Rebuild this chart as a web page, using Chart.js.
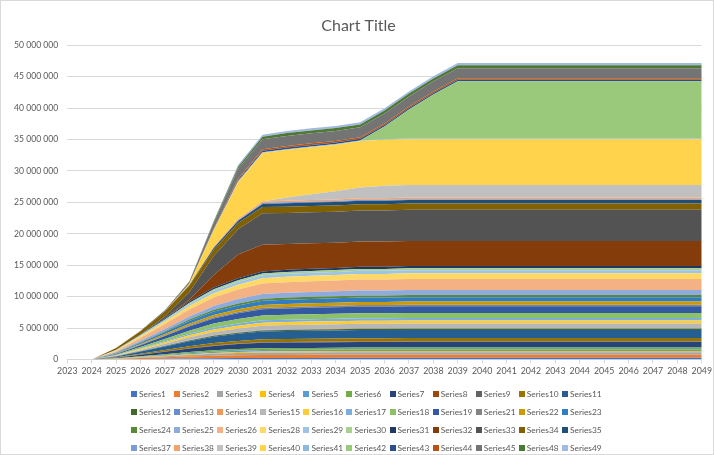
<!DOCTYPE html>
<html>
<head>
<meta charset="utf-8">
<script src="https://cdn.jsdelivr.net/npm/chart.js@4.4.1/dist/chart.umd.min.js"></script>
<style>
  html, body { margin: 0; padding: 0; background: #fff; }
  #wrap { position: relative; width: 714px; height: 455px; }
  #frame { position: absolute; left: 0; top: 0; right: 0; bottom: 0; border: 1px solid #d9d9d9; box-sizing: border-box; pointer-events: none; }
  #legend { position: absolute; left: 131px; top: 385.5px; display: grid; grid-template-columns: repeat(11, 43.1px); grid-auto-rows: 17.8px; font: 8.4px Lato, sans-serif; color: #595959; }
  .item { display: flex; align-items: center; white-space: nowrap; }
  .item i { width: 6px; height: 6px; margin-right: 2px; display: inline-block; }
</style>
</head>
<body>
<div id="wrap">
  <canvas id="areaChart" width="714" height="455"></canvas>
  <div id="legend"></div>
  <div id="frame"></div>
</div>
<script>
// --- DATA (values in millions, 2023..2049) ---
const years = ['2023','2024','2025','2026','2027','2028','2029','2030','2031','2032','2033','2034','2035','2036',
  '2037','2038','2039','2040','2041','2042','2043','2044','2045','2046','2047','2048','2049'];

const s1  = [0,0,.03,.07,.11,.16,.19,.22,.24,.24,.24,.25,.25,.25,.25,.25,.25,.25,.25,.25,.25,.25,.25,.25,.25,.25,.25];
const s2  = [0,0,.05,.14,.22,.31,.39,.44,.47,.48,.49,.49,.5,.5,.5,.5,.5,.5,.5,.5,.5,.5,.5,.5,.5,.5,.5];
const s3  = [0,0,.04,.11,.18,.25,.31,.35,.38,.38,.39,.39,.4,.4,.4,.4,.4,.4,.4,.4,.4,.4,.4,.4,.4,.4,.4];
const s4  = [0,0,.02,.05,.09,.12,.15,.17,.19,.19,.19,.2,.2,.2,.2,.2,.2,.2,.2,.2,.2,.2,.2,.2,.2,.2,.2];
const s5  = [0,0,.02,.06,.1,.15,.19,.22,.23,.24,.24,.25,.25,.25,.25,.25,.25,.25,.25,.25,.25,.25,.25,.25,.25,.25,.25];
const s6  = [0,0,.03,.08,.13,.19,.23,.26,.28,.29,.29,.29,.3,.3,.3,.3,.3,.3,.3,.3,.3,.3,.3,.3,.3,.3,.3];
const s7  = [0,0,.09,.24,.4,.56,.69,.78,.85,.86,.87,.88,.89,.89,.9,.9,.9,.9,.9,.9,.9,.9,.9,.9,.9,.9,.9];
const s8  = [0,0,.01,.01,.02,.03,.04,.04,.05,.05,.05,.05,.05,.05,.05,.05,.05,.05,.05,.05,.05,.05,.05,.05,.05,.05,.05];
const s9  = [0,0,.01,.01,.02,.03,.04,.04,.05,.05,.05,.05,.05,.05,.05,.05,.05,.05,.05,.05,.05,.05,.05,.05,.05,.05,.05];
const s10 = [0,0,.05,.13,.22,.3,.38,.43,.47,.48,.49,.49,.5,.5,.5,.5,.5,.5,.5,.5,.5,.5,.5,.5,.5,.5,.5];
const s11 = [0,0,.13,.35,.57,.81,1.0,1.13,1.22,1.25,1.26,1.27,1.29,1.29,1.3,1.3,1.3,1.3,1.3,1.3,1.3,1.3,1.3,1.3,1.3,1.3,1.3];
const s12 = [0,0,.02,.05,.09,.12,.15,.17,.19,.19,.19,.2,.2,.2,.2,.2,.2,.2,.2,.2,.2,.2,.2,.2,.2,.2,.2];
const s13 = [0,0,.01,.01,.02,.03,.04,.04,.05,.05,.05,.05,.05,.05,.05,.05,.05,.05,.05,.05,.05,.05,.05,.05,.05,.05,.05];
const s14 = [0,0,.01,.01,.02,.03,.04,.04,.05,.05,.05,.05,.05,.05,.05,.05,.05,.05,.05,.05,.05,.05,.05,.05,.05,.05,.05];
const s15 = [0,0,.07,.19,.31,.43,.54,.61,.66,.67,.68,.69,.69,.69,.7,.7,.7,.7,.7,.7,.7,.7,.7,.7,.7,.7,.7];
const s16 = [0,0,.05,.14,.22,.31,.39,.44,.47,.48,.49,.49,.5,.5,.5,.5,.5,.5,.5,.5,.5,.5,.5,.5,.5,.5,.5];
const s17 = [0,0,.04,.11,.18,.25,.31,.35,.38,.38,.39,.39,.4,.4,.4,.4,.4,.4,.4,.4,.4,.4,.4,.4,.4,.4,.4];
const s18 = [0,0,.08,.22,.35,.5,.62,.7,.75,.77,.78,.78,.79,.79,.8,.8,.8,.8,.8,.8,.8,.8,.8,.8,.8,.8,.8];
const s19 = [0,0,.11,.28,.46,.65,.81,.91,.99,1.01,1.02,1.03,1.04,1.04,1.05,1.05,1.05,1.05,1.05,1.05,1.05,1.05,1.05,1.05,1.05,1.05,1.05];
const s21 = [0,0,.03,.07,.11,.16,.19,.22,.24,.24,.24,.25,.25,.25,.25,.25,.25,.25,.25,.25,.25,.25,.25,.25,.25,.25,.25];
const s22 = [0,0,.05,.13,.22,.3,.38,.43,.47,.48,.49,.49,.5,.5,.5,.5,.5,.5,.5,.5,.5,.5,.5,.5,.5,.5,.5];
const s23 = [0,0,.07,.19,.31,.43,.54,.61,.66,.67,.68,.69,.69,.69,.7,.7,.7,.7,.7,.7,.7,.7,.7,.7,.7,.7,.7];
const s24 = [0,0,.04,.09,.15,.22,.27,.3,.33,.34,.34,.34,.35,.35,.35,.35,.35,.35,.35,.35,.35,.35,.35,.35,.35,.35,.35];
const s25 = [0,0,.08,.22,.35,.5,.62,.7,.75,.77,.78,.78,.79,.79,.8,.8,.8,.8,.8,.8,.8,.8,.8,.8,.8,.8,.8];
const s26 = [0,0,.18,.47,.77,1.09,1.35,1.52,1.65,1.68,1.7,1.72,1.73,1.73,1.75,1.75,1.75,1.75,1.75,1.75,1.75,1.75,1.75,1.75,1.75,1.75,1.75];
const s28 = [0,0,.09,.24,.4,.56,.69,.78,.85,.86,.87,.88,.89,.89,.9,.9,.9,.9,.9,.9,.9,.9,.9,.9,.9,.9,.9];
const s29 = [0,0,.05,.14,.22,.31,.39,.44,.47,.48,.49,.49,.5,.5,.5,.5,.5,.5,.5,.5,.5,.5,.5,.5,.5,.5,.5];
const s30 = [0,0,.03,.08,.13,.19,.23,.26,.28,.29,.29,.29,.3,.3,.3,.3,.3,.3,.3,.3,.3,.3,.3,.3,.3,.3,.3];
const s31 = [0,0,.04,.09,.15,.22,.27,.3,.33,.34,.34,.34,.35,.35,.35,.35,.35,.35,.35,.35,.35,.35,.35,.35,.35,.35,.35];
const s32 = [0,0,0,0,0,.3,2.0,3.8,4.25,4.1,4.05,4.0,4.0,4.0,4.0,4.0,4.0,4.0,4.0,4.0,4.0,4.0,4.0,4.0,4.0,4.0,4.0];
const s33 = [0,0,0,0,.3,1.2,3.0,4.0,5.0,4.95,4.95,4.95,4.95,4.95,4.95,4.95,4.95,4.95,4.95,4.95,4.95,4.95,4.95,4.95,4.95,4.95,4.95];
const s34 = [0,0,.3,.5,.8,1.0,1.0,1.0,1.0,1.0,1.0,1.0,1.0,1.0,1.0,1.0,1.0,1.0,1.0,1.0,1.0,1.0,1.0,1.0,1.0,1.0,1.0];
const s35 = [0,0,0,0,0,.1,.3,.35,.5,.55,.55,.55,.55,.55,.55,.55,.55,.55,.55,.55,.55,.55,.55,.55,.55,.55,.55];
const s37 = [0,0,0,0,0,0,.05,.1,.15,.15,.15,.15,.15,.15,.15,.15,.15,.15,.15,.15,.15,.15,.15,.15,.15,.15,.15];
const s38 = [0,0,0,0,0,.05,.15,.2,.25,.25,.25,.25,.25,.25,.25,.25,.25,.25,.25,.25,.25,.25,.25,.25,.25,.25,.25];
const s39 = [0,0,0,0,0,0,0,0,0,.5,.9,1.3,1.7,2.0,2.0,2.0,2.0,2.0,2.0,2.0,2.0,2.0,2.0,2.0,2.0,2.0,2.0];
const s40 = [0,0,0,0,0,.2,2.6,5.9,7.7,7.6,7.5,7.4,7.4,7.3,7.3,7.3,7.3,7.3,7.3,7.3,7.3,7.3,7.3,7.3,7.3,7.3,7.3];
const s41 = [0,0,0,0,0,0,.1,.1,.1,.1,.1,.1,.1,.1,.1,.1,.1,.1,.1,.1,.1,.1,.1,.1,.1,.1,.1];
const s42 = [0,0,0,0,0,0,0,0,0,0,0,0,0,2.0,4.6,7.0,9.1,9.1,9.1,9.1,9.1,9.1,9.1,9.1,9.1,9.1,9.1];
const s43 = [0,0,0,0,0,0,.1,.2,.25,.25,.25,.25,.25,.25,.25,.25,.25,.25,.25,.25,.25,.25,.25,.25,.25,.25,.25];
const s44 = [0,0,0,0,0,0,.1,.2,.25,.25,.25,.25,.25,.25,.25,.25,.25,.25,.25,.25,.25,.25,.25,.25,.25,.25,.25];
const s45 = [0,0,0,.1,.2,.3,.9,1.6,1.6,1.6,1.6,1.6,1.6,1.6,1.6,1.6,1.6,1.6,1.6,1.6,1.6,1.6,1.6,1.6,1.6,1.6,1.6];
const s48 = [0,0,0,0,0,.05,.2,.3,.4,.45,.45,.45,.45,.45,.45,.45,.45,.45,.45,.45,.45,.45,.45,.45,.45,.45,.45];
const s49 = [0,0,0,0,0,.05,.1,.3,.3,.35,.35,.35,.35,.35,.35,.35,.35,.35,.35,.35,.35,.35,.35,.35,.35,.35,.35];

const seriesNumbers = [1,2,3,4,5,6,7,8,9,10,11,12,13,14,15,16,17,18,19,21,22,23,24,25,26,28,29,30,31,32,33,34,35,37,38,39,40,41,42,43,44,45,48,49];
const seriesValues = [s1,s2,s3,s4,s5,s6,s7,s8,s9,s10,s11,s12,s13,s14,s15,s16,s17,s18,s19,s21,s22,s23,s24,s25,s26,s28,s29,s30,s31,s32,s33,s34,s35,s37,s38,s39,s40,s41,s42,s43,s44,s45,s48,s49];

// --- Excel default palette: theme accents with luminance tiers ---
const ACCENTS = ['#4472C4','#ED7D31','#A5A5A5','#FFC000','#5B9BD5','#70AD47'];
const TIERS = [[1,0],[0.6,0],[0.8,0.2],[0.8,0],[0.6,0.4],[0.5,0],[0.7,0.3],[0.7,0],[0.5,0.5]];

function seriesColor(n) {
    const idx = n - 1;
    const hex = ACCENTS[idx % 6];
    const [mod, off] = TIERS[Math.floor(idx / 6)];
    let r = parseInt(hex.slice(1,3),16)/255, g = parseInt(hex.slice(3,5),16)/255, b = parseInt(hex.slice(5,7),16)/255;
    const max = Math.max(r,g,b), min = Math.min(r,g,b);
    let h = 0, s = 0, l = (max + min) / 2;
    if (max !== min) {
        const d = max - min;
        s = d / (1 - Math.abs(2*l - 1));
        if (max === r) h = ((g - b) / d) % 6;
        else if (max === g) h = (b - r) / d + 2;
        else h = (r - g) / d + 4;
        h *= 60; if (h < 0) h += 360;
    }
    l = Math.min(1, l * mod + off);
    const c = (1 - Math.abs(2*l - 1)) * s;
    const x = c * (1 - Math.abs((h / 60) % 2 - 1));
    const m = l - c / 2;
    let rr, gg, bb;
    if (h < 60) [rr,gg,bb] = [c,x,0];
    else if (h < 120) [rr,gg,bb] = [x,c,0];
    else if (h < 180) [rr,gg,bb] = [0,c,x];
    else if (h < 240) [rr,gg,bb] = [0,x,c];
    else if (h < 300) [rr,gg,bb] = [x,0,c];
    else [rr,gg,bb] = [c,0,x];
    const to = v => Math.round((v + m) * 255).toString(16).padStart(2, '0');
    return '#' + to(rr) + to(gg) + to(bb);
}

const TEXT = '#595959';
const LINE = '#d9d9d9';
const FONT = 'Lato, sans-serif';

// --- CHART ---
const ctx = document.getElementById('areaChart').getContext('2d');
const chart = new Chart(ctx, {
    type: 'line',
    data: {
        labels: years,
        datasets: seriesNumbers.map((n, i) => {
            const col = seriesColor(n);
            return {
                label: 'Series' + n,
                data: seriesValues[i].map(v => v * 1e6),
                backgroundColor: col,
                borderColor: col,
                borderWidth: 0,
                pointRadius: 0,
                fill: i === 0 ? 'origin' : '-1',
                tension: 0
            };
        })
    },
    options: {
        responsive: false,
        animation: false,
        devicePixelRatio: 1,
        layout: { padding: { left: 5, right: 2, bottom: 77 } },
        plugins: {
            legend: { display: false },
            tooltip: { enabled: false },
            title: {
                display: true,
                text: 'Chart Title',
                color: TEXT,
                font: { family: FONT, size: 16, weight: 'normal' },
                padding: { top: 16, bottom: 10 }
            }
        },
        scales: {
            x: {
                offset: false,
                grid: { display: true, drawOnChartArea: false, drawTicks: true, tickLength: 4, color: LINE },
                border: { color: LINE },
                ticks: { color: TEXT, font: { family: FONT, size: 8.8 }, maxRotation: 0, autoSkip: false, padding: 2 }
            },
            y: {
                stacked: true,
                min: 0,
                max: 50000000,
                grid: { color: LINE, drawTicks: false },
                border: { display: false },
                ticks: {
                    stepSize: 5000000,
                    padding: 9,
                    color: TEXT,
                    font: { family: FONT, size: 8.6 },
                    callback: v => String(v).replace(/\B(?=(\d{3})+(?!\d))/g, ' ')
                }
            }
        }
    }
});

// --- LEGEND (Excel-style grid, 11 columns) ---
const legendEl = document.getElementById('legend');
seriesNumbers.forEach(n => {
    const item = document.createElement('div');
    item.className = 'item';
    item.innerHTML = `<i style="background:${seriesColor(n)}"></i>Series${n}`;
    legendEl.appendChild(item);
});
</script>
</body>
</html>
